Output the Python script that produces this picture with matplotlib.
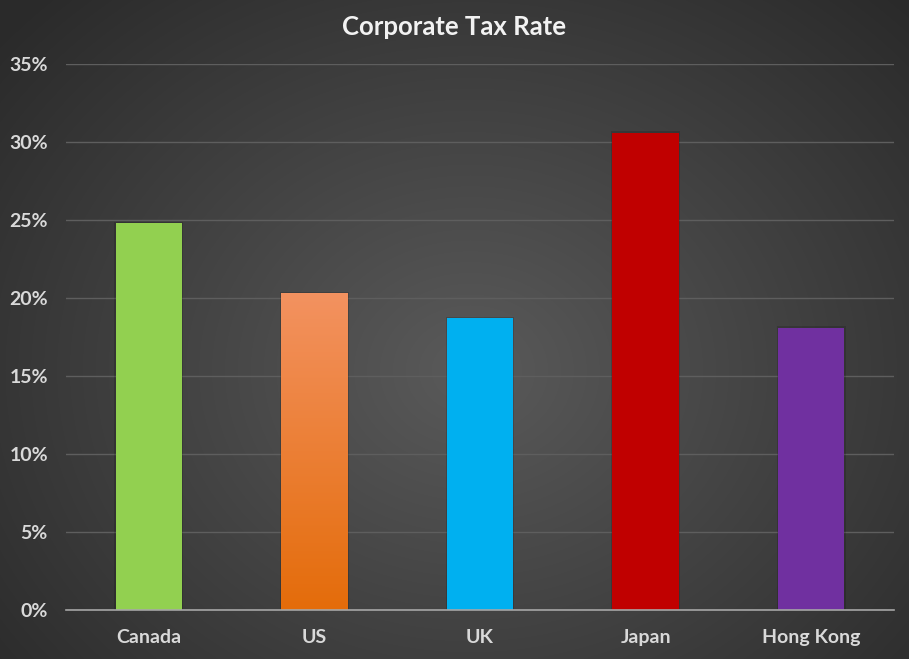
import numpy as np
import matplotlib
matplotlib.use("Agg")
import matplotlib.pyplot as plt
from matplotlib.ticker import FuncFormatter
import matplotlib.colors as mcolors

categories = ["Canada", "US", "UK", "Japan", "Hong Kong"]
tax_rates = [24.8, 20.3, 18.7, 30.6, 18.1]
bar_colors = ["#92D050", "#E46C0A", "#00B0F0", "#C00000", "#7030A0"]
y_ticks = [0, 5, 10, 15, 20, 25, 30, 35]

plt.rcParams['font.family'] = ['Lato', 'DejaVu Sans']

W, H = 909, 659
fig = plt.figure(figsize=(W / 100, H / 100), dpi=100)

# radial gradient background
bg = fig.add_axes([0, 0, 1, 1])
yy, xx = np.mgrid[0:H, 0:W]
cx, cy = 470, 370
r = np.sqrt(((xx - cx) / 620.0) ** 2 + ((yy - cy) / 520.0) ** 2)
r = np.clip(r, 0, 1)
inner = np.array([0x5a, 0x5a, 0x5a]) / 255
outer = np.array([0x2a, 0x2a, 0x2a]) / 255
img = inner[None, None, :] * (1 - r[..., None]) + outer[None, None, :] * r[..., None]
bg.imshow(img, extent=[0, W, H, 0], aspect='auto')
bg.set_xlim(0, W)
bg.set_ylim(H, 0)
bg.axis('off')

ax = fig.add_axes([66 / W, 49 / H, 828 / W, (610 - 64) / H])
ax.set_facecolor('none')
x = np.arange(len(categories))

# subtle shadows
ax.bar(x, [v + 0.08 for v in tax_rates], width=0.415, color='black', alpha=0.15, zorder=2)
bars = ax.bar(x, tax_rates, width=0.4, color=bar_colors, zorder=3)

# gradient on US bar
b = bars[1]
grad = np.linspace(0, 1, 256)[:, None]
top = np.array(mcolors.to_rgb("#F39260"))
bot = np.array(mcolors.to_rgb("#E46C0A"))
gimg = top[None, None, :] * (1 - grad[..., None]) + bot[None, None, :] * grad[..., None]
gimg = np.repeat(gimg, 2, axis=1)
im = ax.imshow(gimg, extent=[b.get_x(), b.get_x() + b.get_width(), 0, b.get_height()],
               aspect='auto', zorder=4, origin='upper')
im.set_clip_path(b)

ax.set_xlim(-0.5, len(categories) - 0.5)
ax.set_ylim(0, 35)
ax.set_yticks(y_ticks)
ax.yaxis.set_major_formatter(FuncFormatter(lambda v, p: f"{int(v)}%"))
ax.set_xticks(x)
ax.set_xticklabels(categories)
ax.grid(axis='y', color='#5e5e5e', linewidth=1, zorder=0)
ax.set_axisbelow(True)
for s in ['top', 'right', 'left']:
    ax.spines[s].set_visible(False)
ax.spines['bottom'].set_color('#a6a6a6')
ax.spines['bottom'].set_linewidth(1.2)
ax.spines['bottom'].set_zorder(5)
ax.tick_params(axis='both', length=0, colors='#d9d9d9', labelsize=14)
ax.tick_params(axis='x', pad=14)
ax.tick_params(axis='y', pad=13)
for lab in ax.get_xticklabels() + ax.get_yticklabels():
    lab.set_fontweight('bold')
    lab.set_color('#d9d9d9')

fig.text(0.5, 1 - 27 / H, "Corporate Tax Rate", ha='center', va='center',
         fontsize=18.5, fontweight='bold', color='#f2f2f2')

fig.savefig("out.png", dpi=100)
